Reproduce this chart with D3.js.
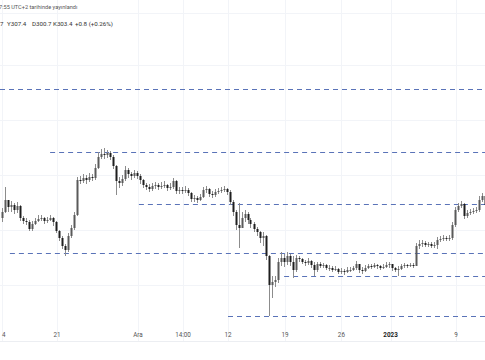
<!DOCTYPE html>
<html><head><meta charset="utf-8">
<script src="https://cdn.jsdelivr.net/npm/d3@7"></script>
<style>html,body{margin:0;padding:0;background:#fff;overflow:hidden}svg{display:block}</style>
</head><body>
<svg id="c" width="485" height="360"></svg>
<script>
const firstOpen = 288;
const closes = [294,306,299,301,296,300,288,285,284,277,282,285,287,288,285,286,288,284,275,268,260,256,270,278,291,326,325,328,326,329,328,338,349,352,351,353,349,340,325,323,327,336,332,330,333,330,326,321,319,317,320,321,319,320,321,318,319,325,315,316,315,316,313,307,308,306,309,316,317,312,311,314,315,316,317,314,304,294,281,278,288,292,286,282,277,274,268,270,250,221,224,226,244,248,244,250,244,236,248,247,244,243,245,241,236,242,240,241,238,238,236,237,234,235,234,236,236,238,242,236,235,238,240,239,241,240,238,239,241,242,238,236,237,240,241,240,241,240,260,262,263,261,262,260,261,266,267,268,267,268,281,296,300,302,290,293,294,295,296,306,310,301];
const highs = [298,319,304,305,303,304,301,290,288,286,285,288,291,291,289,289,291,289,285,276,270,262,273,281,294,329,330,332,331,333,332,342,354,357,358,356,355,351,341,329,331,340,338,334,336,335,332,327,323,322,323,324,323,324,325,322,323,328,326,319,319,320,318,314,311,310,312,319,320,318,315,317,318,319,320,318,316,306,296,303,294,296,294,288,284,279,275,274,271,251,230,230,248,254,252,254,252,250,251,250,248,246,248,246,244,244,244,243,242,241,240,240,238,238,237,239,239,240,245,242,239,241,242,242,243,242,241,242,244,244,242,239,240,242,243,242,243,243,263,266,266,265,264,264,264,269,270,271,270,271,284,299,303,305,303,296,297,298,299,310,313,312];
const lows = [284,293,294,294,292,293,285,282,281,275,275,281,284,285,282,283,285,280,273,265,257,250,254,268,276,290,322,323,322,324,325,326,337,347,347,348,346,337,311,318,320,325,328,326,328,327,322,318,316,314,315,317,316,317,318,315,316,317,312,312,312,313,310,304,304,303,305,308,313,309,308,309,312,313,314,311,301,290,276,258,282,284,282,278,274,270,263,260,246,190,208,219,223,240,239,241,240,228,234,244,242,240,241,238,230,234,238,238,236,235,234,235,232,232,231,233,234,235,236,233,232,234,237,237,238,237,236,237,238,238,235,234,230,236,238,238,239,238,246,257,259,259,259,258,258,257,264,265,265,265,266,279,294,298,287,288,291,292,293,294,304,299];
const opens = [firstOpen].concat(closes.slice(0, -1));

const levelPrices = [417, 354, 302, 253, 230, 190];
const levelStart = [-0.5, 16.2, 45.8, 2.8, 94.2, 75.5];
const gridPrices = [441, 386, 331, 276, 221];
const tickLabels = ["4", "21", "Ara", "14:00", "12", "19", "26", "2023", "9"];
const tickIndex = [0.2, 18.5, 45.5, 60.5, 75.5, 94.5, 113.3, 129.7, 151.5];
const tickBold = ["2023"];
const headerLine1 = "7:55 UTC+2 tarihinde yayınlandı";
const headerParts = ["7", "Y307.4", "D300.7", "K303.4", "+0.8 (+0.26%)"];

const W = 485, H = 360, plotBottom = 341;
const svg = d3.select("#c");
const x = d3.scaleLinear().domain([-0.5, closes.length - 0.5]).range([0, W + 1]);
const y = d3.scaleLinear().domain([165, 506]).range([plotBottom, 0]);

// grid
const g = svg.append("g");
g.selectAll("line.h").data(gridPrices).join("line")
  .attr("x1", 0).attr("x2", W).attr("y1", d => y(d) + 0.5).attr("y2", d => y(d) + 0.5)
  .attr("stroke", "#f2f4f8").attr("stroke-width", 1);
g.append("line").attr("x1", 0).attr("x2", W).attr("y1", 13.5).attr("y2", 13.5)
  .attr("stroke", "#f2f4f8");
g.selectAll("line.v").data(tickIndex).join("line")
  .attr("x1", d => Math.round(x(d)) + 0.5).attr("x2", d => Math.round(x(d)) + 0.5)
  .attr("y1", 0).attr("y2", plotBottom)
  .attr("stroke", "#f2f4f8").attr("stroke-width", 1);

// levels
svg.append("g").selectAll("line").data(levelPrices).join("line")
  .attr("x1", (d, i) => Math.max(0, x(levelStart[i])))
  .attr("x2", W)
  .attr("y1", d => Math.round(y(d)) + 0.5).attr("y2", d => Math.round(y(d)) + 0.5)
  .attr("stroke", "#5a73b8").attr("stroke-width", 1).attr("stroke-dasharray", "5,4");

// candles
const idx = d3.range(closes.length);
const cg = svg.append("g");
cg.selectAll("line").data(idx).join("line")
  .attr("x1", i => Math.round(x(i)) + 0.5).attr("x2", i => Math.round(x(i)) + 0.5)
  .attr("y1", i => y(highs[i])).attr("y2", i => y(lows[i]))
  .attr("stroke", "#8c8c8c").attr("stroke-width", 1);
cg.selectAll("rect").data(idx).join("rect")
  .attr("x", i => Math.round(x(i)) - 0.5)
  .attr("width", 2)
  .attr("y", i => y(Math.max(opens[i], closes[i])))
  .attr("height", i => Math.max(1, Math.abs(y(opens[i]) - y(closes[i]))))
  .attr("fill", i => closes[i] >= opens[i] ? "#5a5a5a" : "#1e1e1e");

// axis
const ax = svg.append("g");
ax.append("line").attr("x1", 0).attr("x2", W).attr("y1", plotBottom + 0.5).attr("y2", plotBottom + 0.5)
  .attr("stroke", "#eceef2");
ax.selectAll("text").data(tickLabels).join("text")
  .attr("x", (d, i) => x(tickIndex[i]))
  .attr("y", 337)
  .attr("text-anchor", (d, i) => i === 0 ? "start" : "middle")
  .attr("font-family", "Roboto, 'Open Sans', sans-serif")
  .attr("font-size", 6.3)
  .attr("font-weight", d => tickBold.includes(d) ? "bold" : "normal")
  .attr("fill", d => tickBold.includes(d) ? "#222" : "#555")
  .text(d => d);

// header
svg.append("text").attr("x", -1).attr("y", 9)
  .attr("font-family", "Roboto, 'Open Sans', sans-serif").attr("font-size", 5.6)
  .attr("fill", "#555").text(headerLine1);
const hx = [0, 7, 32, 53, 75];
svg.append("g").selectAll("text").data(headerParts).join("text")
  .attr("x", (d, i) => hx[i]).attr("y", 26)
  .attr("font-family", "Roboto, 'Open Sans', sans-serif").attr("font-size", 6.2)
  .attr("fill", "#333").text(d => d);
</script>
</body></html>
